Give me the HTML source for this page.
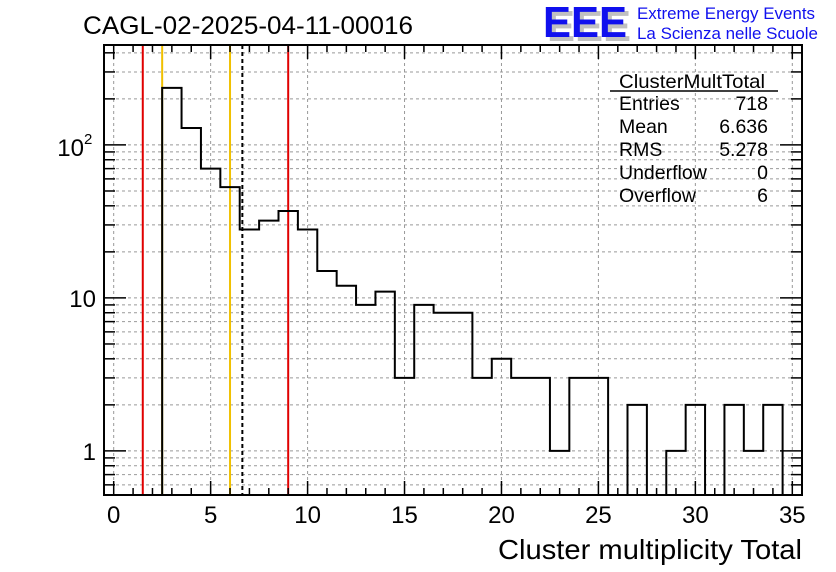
<!DOCTYPE html>
<html><head><meta charset="utf-8"><style>
body{margin:0;background:#fff;}
svg{display:block;font-family:"Liberation Sans",sans-serif;}
</style></head><body>
<svg id="chart" width="836" height="572" viewBox="0 0 836 572">
<rect width="836" height="572" fill="#fff"/>
<g id="grid"></g>
<g id="marks"></g>
<g id="axes"></g>
<text x="83" y="34" font-size="25" textLength="330" lengthAdjust="spacingAndGlyphs">CAGL-02-2025-04-11-00016</text>
<g>
<text x="547" y="41" font-size="44" font-weight="bold" fill="#c0c0c0" textLength="84" lengthAdjust="spacingAndGlyphs">EEE</text>
<text x="543" y="37" font-size="44" font-weight="bold" fill="#1010ee" textLength="84" lengthAdjust="spacingAndGlyphs">EEE</text>
<text x="637" y="19" font-size="17" fill="#1010ee" textLength="178" lengthAdjust="spacingAndGlyphs">Extreme Energy Events</text>
<text x="637" y="39" font-size="17" fill="#1010ee" textLength="181" lengthAdjust="spacingAndGlyphs">La Scienza nelle Scuole</text>
</g>
<g font-size="19.5">
<text x="692" y="88" text-anchor="middle" textLength="146" lengthAdjust="spacingAndGlyphs">ClusterMultTotal</text>
<line x1="610" y1="91" x2="778" y2="91" stroke="#000" stroke-width="1.5"/>
<text x="619" y="110">Entries</text><text x="768" y="110" text-anchor="end">718</text>
<text x="619" y="133">Mean</text><text x="768" y="133" text-anchor="end">6.636</text>
<text x="619" y="156">RMS</text><text x="768" y="156" text-anchor="end">5.278</text>
<text x="619" y="179">Underflow</text><text x="768" y="179" text-anchor="end">0</text>
<text x="619" y="202">Overflow</text><text x="768" y="202" text-anchor="end">6</text>
</g>
<text x="802" y="559" font-size="28" text-anchor="end" textLength="304" lengthAdjust="spacingAndGlyphs">Cluster multiplicity Total</text>
</svg>
<script>
const binCenters = [3,4,5,6,7,8,9,10,11,12,13,14,15,16,17,18,19,20,21,22,23,24,25,26,27,28,29,30,31,32,33,34];
const binCounts  = [236,129,70,53,28,32,37,28,15,12,9,11,3,9,8,8,3,4,3,3,1,3,3,0,2,0,1,2,0,2,1,2];
const xTickLabels = [0,5,10,15,20,25,30,35];
const markerLines = [[1.5,'#e00000',false],[2.5,'#f0c000',false],[6.0,'#f0c000',false],[6.636,'#000',true],[9.0,'#e00000',false]];

const L=104,R=802,T=45,B=495, X0=-0.5,X1=35.5;
const LOGMIN=Math.log10(0.515), LOGMAX=Math.log10(450);
function sx(v){return L+(v-X0)/(X1-X0)*(R-L);}
function sy(v){if(v<=0)return B;return B-(Math.log10(v)-LOGMIN)/(LOGMAX-LOGMIN)*(B-T);}
const NS='http://www.w3.org/2000/svg';
function mk(tag,attrs,parent){const e=document.createElementNS(NS,tag);for(const k in attrs)e.setAttribute(k,attrs[k]);parent.appendChild(e);return e;}
const grid=document.getElementById('grid'),marks=document.getElementById('marks'),axes=document.getElementById('axes');

xTickLabels.forEach(v=>{const g=mk('line',{x1:sx(v),x2:sx(v),y1:T,y2:B,stroke:'#999','stroke-dasharray':'3,3','stroke-width':1},grid);

});
const yVals=[];
for(let d=0.1;d<=100;d*=10){for(let m=1;m<=9;m++){const v=m*d;if(v>=0.515&&v<=450)yVals.push(v);}}
yVals.forEach(v=>{const g=mk('line',{x1:L,x2:R,y1:sy(v),y2:sy(v),stroke:'#999','stroke-dasharray':'3,3','stroke-width':1},grid);


const major=Math.abs(Math.log10(v)-Math.round(Math.log10(v)))<1e-6;
const len=major?22:11;
const t1=mk('line',{x1:L,x2:L+len,y1:sy(v),y2:sy(v),stroke:'#000','stroke-width':1.5},axes);


const t2=mk('line',{x1:R,x2:R-len,y1:sy(v),y2:sy(v),stroke:'#000','stroke-width':1.5},axes);

});

markerLines.forEach(m=>{const a={x1:sx(m[0]),x2:sx(m[0]),y1:T,y2:B,stroke:m[1],'stroke-width':2};if(m[2])a['stroke-dasharray']='4,3';
const l=mk('line',a,marks);

});

let d='M'+sx(binCenters[0]-0.5)+','+B;
binCenters.forEach((c,i)=>{const y=sy(binCounts[i]);d+=' L'+sx(c-0.5)+','+y+' L'+sx(c+0.5)+','+y;});
d+=' L'+sx(binCenters[binCenters.length-1]+0.5)+','+B;
const h=mk('path',{d:d,fill:'none',stroke:'#000','stroke-width':2},marks);



const f=mk('rect',{x:L,y:T,width:R-L,height:B-T,fill:'none',stroke:'#000','stroke-width':2},axes);



for(let v=0;v<=35;v++){const major=v%5===0;const len=major?14:7;
const t=mk('line',{x1:sx(v),x2:sx(v),y1:B,y2:B-len,stroke:'#000','stroke-width':1.5},axes);


const t2=mk('line',{x1:sx(v),x2:sx(v),y1:T,y2:T+len,stroke:'#000','stroke-width':1.5},axes);

}
xTickLabels.forEach(v=>{const t=mk('text',{x:sx(v),y:523,'font-size':24,'text-anchor':'middle'},axes);t.textContent=v;

});

const yl=[[1,'1'],[10,'10']];
yl.forEach(p=>{const t=mk('text',{x:96,y:sy(p[0])+9,'font-size':24,'text-anchor':'end'},axes);t.textContent=p[1];

});
const t100=mk('text',{x:84,y:sy(100)+11,'font-size':24,'text-anchor':'end'},axes);t100.textContent='10';


const sup=mk('text',{x:84,y:sy(100)-1,'font-size':15},axes);sup.textContent='2';


</script>
</body></html>
